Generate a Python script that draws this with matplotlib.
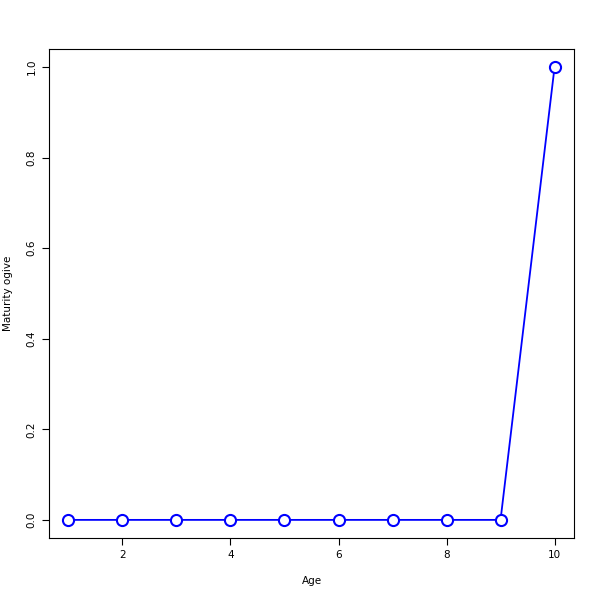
import numpy as np
import matplotlib.pyplot as plt

age = [1, 2, 3, 4, 5, 6, 7, 8, 9, 10]
maturity = [0, 0, 0, 0, 0, 0, 0, 0, 0, 1.0]

fig = plt.figure(figsize=(6, 6), dpi=100)
ax = fig.add_axes([49 / 600, 62 / 600, 525 / 600, 489 / 600])

ax.plot(age, maturity, color="blue", linewidth=1.3, marker="o", markersize=8,
        markerfacecolor="white", markeredgecolor="blue", markeredgewidth=1.5)

ax.set_xlim(0.64, 10.36)
ax.set_ylim(-0.04, 1.04)
ax.set_xticks([2, 4, 6, 8, 10])
ax.set_yticks([0.0, 0.2, 0.4, 0.6, 0.8, 1.0])
ax.set_yticklabels(["0.0", "0.2", "0.4", "0.6", "0.8", "1.0"], rotation=90, va="center")
ax.tick_params(direction="out", length=5, labelsize=7.5, pad=4)
for s in ax.spines.values():
    s.set_linewidth(0.8)

ax.set_xlabel("Age", fontsize=7.5, labelpad=11.5)
ax.set_ylabel("Maturity ogive", fontsize=7.5, labelpad=9.5)

fig.savefig("out.png", dpi=100)
